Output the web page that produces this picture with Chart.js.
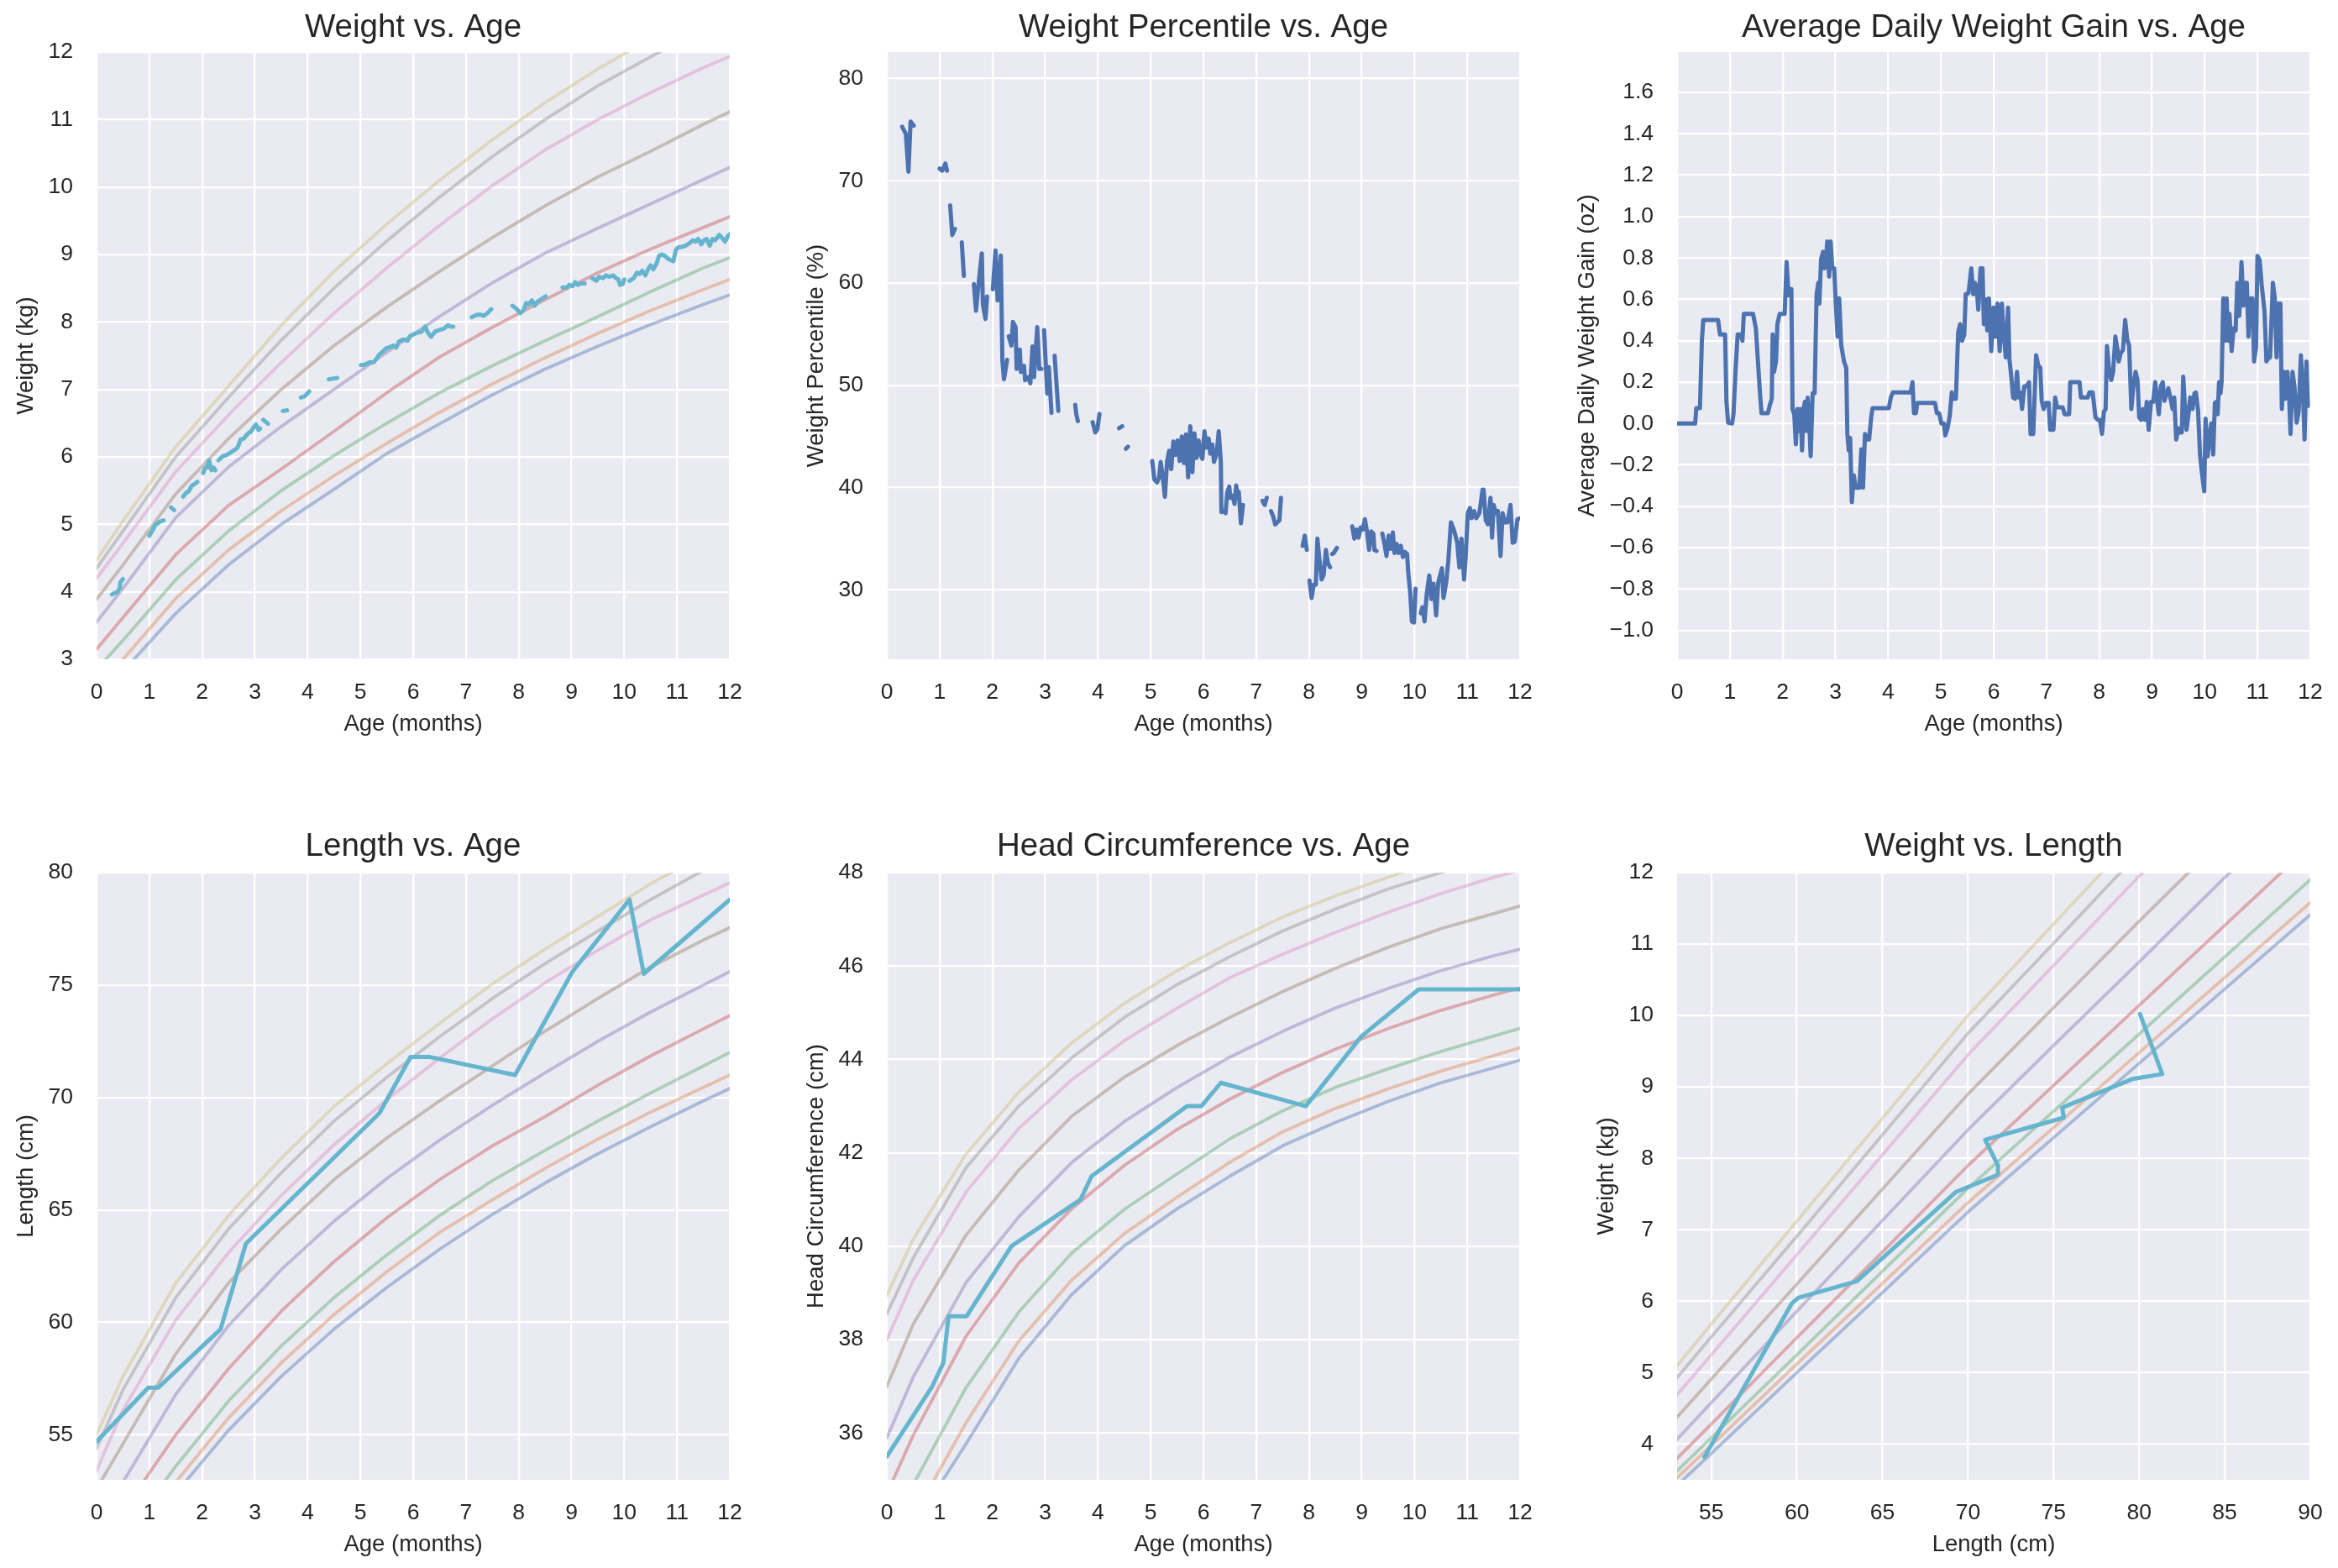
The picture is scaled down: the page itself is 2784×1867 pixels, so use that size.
<!DOCTYPE html>
<html><head><meta charset="utf-8">
<script src="https://cdn.jsdelivr.net/npm/chart.js@4.4.1/dist/chart.umd.min.js"></script>
<style>
html,body{margin:0;padding:0;background:#ffffff;width:2784px;height:1867px;overflow:hidden;position:relative;}
canvas{position:absolute;}
</style></head><body>
<canvas id="c1"></canvas><canvas id="c2"></canvas><canvas id="c3"></canvas>
<canvas id="c4"></canvas><canvas id="c5"></canvas><canvas id="c6"></canvas>
<script>
// ---------------- DATA ----------------
const CURVE_AGES = [0,0.5,1.5,2.5,3.5,4.5,5.5,6.5,7.5,8.5,9.5,10.5,11.5,12.5];
const PCT_NAMES = ['P3','P5','P10','P25','P50','P75','P90','P95','P97'];

// weight-for-age reference curves (kg)
const W_P3  = [2.42,2.82,3.68,4.40,5.00,5.52,6.05,6.49,6.92,7.30,7.64,7.96,8.26,8.54];
const W_P5  = [2.60,3.00,3.90,4.62,5.20,5.72,6.20,6.66,7.08,7.47,7.83,8.17,8.48,8.78];
const W_P10 = [2.85,3.28,4.18,4.90,5.50,6.02,6.50,6.95,7.35,7.72,8.08,8.45,8.80,9.10];
const W_P25 = [3.15,3.62,4.55,5.28,5.82,6.38,6.95,7.48,7.92,8.33,8.73,9.08,9.40,9.72];
const W_P50 = [3.55,4.05,5.10,5.85,6.45,7.00,7.55,8.08,8.58,9.02,9.39,9.75,10.11,10.47];
const W_P75 = [3.89,4.40,5.45,6.27,7.00,7.65,8.22,8.75,9.25,9.72,10.15,10.53,10.93,11.30];
const W_P90 = [4.20,4.72,5.78,6.62,7.40,8.13,8.80,9.43,10.02,10.55,11.00,11.40,11.77,12.10];
const W_P95 = [4.35,4.90,6.00,6.88,7.73,8.50,9.20,9.85,10.45,11.00,11.50,11.93,12.35,12.75];
const W_P97 = [4.47,5.05,6.15,7.05,7.95,8.75,9.45,10.10,10.70,11.25,11.75,12.20,12.60,13.00];

// length-for-age reference curves (cm)
const L_P3  = [47.1,49.2,52.4,55.2,57.6,59.7,61.55,63.25,64.8,66.2,67.5,68.7,69.85,70.95];
const L_P5  = [47.6,49.7,52.9,55.75,58.2,60.35,62.25,64.0,65.45,66.85,68.15,69.35,70.45,71.55];
const L_P10 = [48.3,50.4,53.6,56.5,58.95,61.1,63.0,64.75,66.3,67.65,68.95,70.2,71.4,72.6];
const L_P25 = [49.8,51.6,55.0,57.94,60.5,62.7,64.65,66.35,67.85,69.15,70.55,71.85,73.05,74.25];
const L_P50 = [51.3,52.9,56.8,59.85,62.35,64.5,66.4,68.1,69.65,71.1,72.5,73.8,75.0,76.2];
const L_P75 = [52.6,54.6,58.6,61.75,64.15,66.35,68.2,69.85,71.4,72.95,74.4,75.8,77.0,78.1];
const L_P90 = [53.4,56.1,60.1,63.1,65.65,67.9,69.9,71.75,73.5,75.1,76.55,77.9,79.0,80.1];
const L_P95 = [54.4,57.0,61.1,64.15,66.65,68.95,70.9,72.7,74.4,75.95,77.4,78.8,80.1,81.3];
const L_P97 = [55.0,57.6,61.75,64.75,67.3,69.6,71.5,73.3,75.05,76.6,78.05,79.5,80.8,82.0];

// head circumference-for-age reference curves (cm)
const H_P3  = [33.0,34.0,35.77,37.6,38.96,40.01,40.8,41.5,42.15,42.65,43.1,43.5,43.82,44.15];
const H_P5  = [33.3,34.2,36.22,37.97,39.27,40.27,41.05,41.8,42.45,42.95,43.37,43.75,44.08,44.42];
const H_P10 = [33.9,34.9,36.97,38.59,39.85,40.79,41.55,42.3,42.9,43.4,43.8,44.17,44.5,44.83];
const H_P25 = [34.7,35.95,38.07,39.64,40.8,41.73,42.5,43.15,43.72,44.22,44.66,45.05,45.38,45.68];
const H_P50 = [35.9,37.2,39.22,40.63,41.79,42.67,43.4,44.05,44.6,45.1,45.52,45.9,46.22,46.5];
const H_P75 = [37.0,38.33,40.24,41.63,42.78,43.62,44.3,44.9,45.45,45.95,46.4,46.8,47.12,47.45];
const H_P90 = [38.0,39.27,41.16,42.52,43.56,44.4,45.1,45.75,46.25,46.72,47.15,47.55,47.9,48.2];
const H_P95 = [38.55,39.75,41.68,43.0,44.03,44.9,45.6,46.2,46.75,47.22,47.65,48.0,48.35,48.65];
const H_P97 = [38.95,40.15,41.97,43.3,44.35,45.2,45.9,46.5,47.05,47.5,47.9,48.3,48.65,49.0];

// weight-for-length reference curves (kg) at lengths (cm)
const LEN_NODES = [50,55,60,65,70,75,80,85,90,95];
const F_P3  = [2.75,3.87,5.0,6.12,7.25,8.29,9.33,10.37,11.41,12.45];
const F_P5  = [2.85,3.98,5.12,6.25,7.38,8.43,9.48,10.53,11.58,12.6];
const F_P10 = [2.93,4.09,5.25,6.42,7.58,8.66,9.74,10.82,11.9,12.95];
const F_P25 = [3.08,4.28,5.49,6.69,7.9,9.02,10.14,11.26,12.38,13.5];
const F_P50 = [3.3,4.58,5.86,7.13,8.4,9.58,10.75,11.93,13.08,14.2];
const F_P75 = [3.58,4.91,6.24,7.57,8.9,10.11,11.32,12.5,13.65,14.8];
const F_P90 = [3.85,5.25,6.65,8.05,9.45,10.7,11.95,13.15,14.35,15.5];
const F_P95 = [4.08,5.5,6.91,8.33,9.75,11.01,12.28,13.5,14.7,15.9];
const F_P97 = [4.23,5.68,7.12,8.56,10.0,11.28,12.56,13.8,15.0,16.2];

// measured weight (kg) by age (months); null = no reading
const WEIGHT_AGE = [0.29,0.34,0.40,0.44,0.45,0.50,null,
 1.00,1.06,1.11,1.18,1.23,1.27,null,
 1.41,1.47,null,
 1.64,1.70,1.75,1.80,1.86,1.91,null,
 2.02,2.06,2.10,2.13,2.18,2.22,2.25,null,
 2.31,2.39,2.47,2.55,2.63,2.68,2.73,2.79,2.84,2.89,2.92,2.98,3.02,3.07,3.10,null,
 3.16,3.25,null,
 3.53,3.61,null,
 3.87,3.95,4.03,null,
 4.40,4.56,null,
 5.01,5.09,5.17,5.25,5.31,5.36,5.41,5.49,5.57,5.62,5.68,5.73,5.78,5.84,5.89,5.94,6.07,6.15,6.23,6.28,6.34,6.42,6.50,6.58,6.66,6.71,6.76,null,
 7.11,7.19,7.27,7.34,7.42,7.48,null,
 7.88,7.95,8.03,8.09,8.14,8.19,8.25,8.30,8.35,8.43,8.51,null,
 8.83,8.91,8.96,9.02,9.07,9.12,9.18,9.25,null,
 9.39,9.47,9.52,9.60,9.65,9.71,9.79,9.84,9.89,9.92,9.97,10.00,null,
 10.10,10.18,10.24,10.29,10.34,10.40,10.45,10.50,10.55,10.61,10.66,10.71,10.77,10.82,10.87,10.93,10.98,11.03,11.08,11.16,11.24,11.30,11.35,11.40,11.46,11.51,11.56,11.62,11.67,11.72,11.80,11.85,11.91,11.96,12.0];
const WEIGHT_KG = [3.96,3.98,4.00,4.06,4.14,4.19,null,
 4.83,4.91,4.99,5.03,5.05,5.06,null,
 5.25,5.21,null,
 5.41,5.47,5.49,5.57,5.60,5.63,null,
 5.76,5.84,5.84,5.95,5.80,5.84,5.80,null,
 5.95,6.01,6.03,6.07,6.11,6.15,6.26,6.27,6.32,6.36,6.37,6.44,6.48,6.40,6.42,null,
 6.55,6.49,null,
 6.68,6.69,null,
 6.88,6.90,6.97,null,
 7.15,7.17,null,
 7.36,7.37,7.40,7.40,7.46,7.52,7.55,7.61,7.63,7.65,7.62,7.71,7.73,7.74,7.72,7.79,7.84,7.85,7.93,7.84,7.78,7.86,7.88,7.90,7.95,7.93,7.93,null,
 8.07,8.10,8.11,8.09,8.14,8.19,null,
 8.24,8.20,8.13,8.17,8.28,8.26,8.32,8.24,8.30,8.34,8.38,null,
 8.51,8.51,8.55,8.53,8.59,8.55,8.57,8.57,null,
 8.65,8.61,8.67,8.65,8.69,8.67,8.69,8.65,8.63,8.55,8.56,8.63,null,
 8.61,8.65,8.73,8.71,8.76,8.69,8.78,8.84,8.78,8.86,8.98,9.00,8.98,8.94,8.92,8.90,9.07,9.11,9.11,9.13,9.17,9.21,9.19,9.23,9.15,9.21,9.23,9.13,9.23,9.21,9.29,9.25,9.19,9.27,9.30];

// weight percentile (%) by age (months)
const PCT_AGE = [0.29,0.36,0.41,0.45,0.51,null,
 1.00,1.05,1.11,1.14,null,
 1.20,1.24,1.29,null,
 1.42,1.46,null,
 1.65,1.69,1.73,1.80,1.82,1.87,1.90,null,
 2.01,2.06,2.10,2.13,2.16,2.19,2.22,2.28,null,
 2.31,2.36,2.39,2.44,2.46,2.52,2.54,2.60,2.62,2.68,2.72,2.76,2.79,2.85,2.89,2.93,null,
 2.98,3.04,3.07,3.12,null,
 3.18,3.25,null,
 3.57,3.59,3.62,null,
 3.90,3.95,3.99,4.03,null,
 4.40,4.46,null,
 4.53,4.57,null,
 5.03,5.07,5.12,5.16,5.19,5.23,5.27,5.31,5.35,5.39,5.43,5.47,5.51,5.55,5.59,5.63,5.67,5.71,5.75,5.79,5.83,5.87,5.91,5.95,
 5.98,6.02,6.06,6.10,6.13,6.17,6.20,6.25,6.29,6.33,6.34,6.38,6.42,6.45,6.49,6.51,6.55,6.59,6.62,6.65,6.67,6.71,6.75,null,
 7.12,7.16,7.20,null,
 7.28,7.32,7.36,7.40,7.44,7.47,null,
 7.88,7.92,7.96,null,
 8.01,8.05,8.09,8.13,8.16,8.20,8.24,8.28,8.32,8.36,8.40,null,
 8.44,8.47,8.53,null,
 8.82,8.86,8.90,8.94,8.98,9.02,9.06,9.10,9.14,9.18,9.22,9.24,9.28,null,
 9.39,9.43,9.47,9.51,9.55,9.59,9.62,9.66,9.70,9.74,9.78,9.82,9.86,9.88,9.92,9.95,9.99,10.02,null,
 10.12,10.15,10.19,10.23,10.28,10.32,10.36,10.41,10.45,10.52,10.55,10.60,10.64,10.69,10.75,10.81,10.85,10.89,10.94,10.97,
 11.01,11.05,11.08,11.13,11.17,11.23,11.29,11.31,11.35,11.39,11.44,11.47,11.50,11.54,11.58,11.63,11.67,11.71,11.76,11.82,11.86,11.90,11.95,12.0];
const PCT_VAL = [75.3,74.6,70.9,75.8,75.4,null,
 71.2,71.0,71.7,71.0,null,
 67.6,64.7,65.3,null,
 64.0,60.7,null,
 59.9,57.3,59.5,62.9,57.9,56.5,58.7,null,
 59.4,63.2,58.3,60.3,62.7,52.4,50.6,52.5,null,
 54.8,53.9,56.2,55.7,51.6,53.5,51.3,51.9,50.5,50.8,50.2,53.8,50.8,55.7,51.6,51.6,null,
 55.4,49.2,51.8,47.3,null,
 52.9,47.5,null,
 48.1,47.2,46.5,null,
 46.4,45.4,45.7,47.2,null,
 45.8,46.0,null,
 43.8,44.0,null,
 42.6,40.8,40.5,41.0,42.5,41.0,39.1,42.5,43.6,41.8,44.5,43.2,44.6,42.6,45.0,42.4,45.2,41.0,46.0,41.5,45.3,42.9,44.6,43.2,
 42.8,45.5,43.9,44.8,43.3,44.2,42.5,43.3,45.5,42.5,37.6,37.7,37.5,39.5,40.1,39.0,39.2,38.4,40.2,39.0,39.6,36.5,38.3,null,
 38.7,38.3,39.0,null,
 37.7,37.2,36.4,36.6,36.8,39.0,null,
 34.3,35.3,33.9,null,
 30.9,29.2,30.5,30.5,35.0,32.9,31.0,31.5,33.9,32.6,32.2,null,
 33.5,33.6,34.1,null,
 36.2,35.0,35.9,35.1,36.1,35.9,36.9,35.7,33.9,35.7,35.5,33.9,33.8,null,
 35.5,34.5,33.3,35.3,34.0,35.6,33.6,34.5,33.6,34.3,33.2,33.7,33.5,31.8,29.6,26.9,26.8,30.1,null,
 27.7,28.3,26.9,29.5,31.4,29.1,30.6,27.5,30.7,32.1,29.2,30.7,32.8,36.6,35.8,34.6,32.2,35.0,31.0,33.2,
 37.5,38.0,37.0,37.7,37.0,37.5,39.8,39.8,36.8,36.4,39.0,35.1,38.3,37.5,37.7,33.3,37.5,36.6,36.6,38.3,34.6,34.7,36.9,37.0];

// average daily weight gain (oz) by age (months)
const ADG_AGE = [0,0.343,0.364,0.433,0.47,0.496,0.777,0.814,0.91,0.936,0.968,1.042,1.069,1.111,1.148,1.212,1.239,1.265,1.44,1.493,
 1.573,1.6,1.721,1.758,1.795,1.811,1.838,1.875,1.901,1.944,2.039,2.076,2.113,2.145,2.166,2.188,2.22,2.251,2.278,2.315,
 2.341,2.368,2.394,2.421,2.448,2.474,2.5,2.532,2.569,2.607,2.644,2.676,2.697,2.729,2.766,2.792,2.819,2.845,2.882,2.909,
 2.941,2.978,3.004,3.041,3.073,3.11,3.163,3.206,3.227,3.253,3.28,3.312,3.349,3.386,3.455,3.492,3.524,3.561,3.598,3.64,
 3.678,3.704,4.012,4.054,4.091,4.425,4.462,4.489,4.526,4.553,4.887,4.924,4.966,5.008,5.056,5.083,5.125,5.168,5.205,5.231,
 5.284,5.327,5.364,5.401,5.443,5.47,5.523,5.576,5.613,5.645,5.682,5.708,5.751,5.788,5.814,5.857,5.878,5.91,
 5.954,5.996,6.033,6.071,6.113,6.156,6.193,6.23,6.273,6.299,6.336,6.368,6.405,6.442,6.474,6.506,6.538,6.58,6.618,6.671,
 6.698,6.75,6.804,6.846,6.883,6.91,6.947,6.989,7.042,7.069,7.133,7.165,7.202,7.308,7.345,7.43,7.451,7.627,7.653,7.786,
 7.813,7.876,7.929,7.972,8.014,8.052,8.089,8.121,8.147,8.184,8.227,8.264,8.306,8.344,8.37,8.407,8.45,8.492,8.529,8.567,
 8.609,8.646,8.689,8.726,8.758,8.795,8.832,8.864,8.901,8.938,8.981,9.023,9.061,9.098,9.13,9.167,9.204,9.236,9.273,9.31,
 9.353,9.39,9.422,9.459,9.501,9.539,9.565,9.592,9.618,9.655,9.698,9.724,9.767,9.804,9.831,9.873,9.91,9.947,9.99,10.016,
 10.054,10.086,10.123,10.16,10.192,10.218,10.245,10.271,10.298,10.319,10.351,10.388,10.415,10.441,10.468,10.51,10.547,10.585,10.617,10.654,
 10.696,10.733,10.76,10.797,10.829,10.866,10.903,10.935,10.972,10.999,11.041,11.079,11.132,11.169,11.201,11.238,11.291,11.328,11.36,11.397,
 11.434,11.461,11.503,11.53,11.567,11.599,11.626,11.663,11.7,11.742,11.78,11.822,11.859,11.891,11.928,11.955];
const ADG_OZ = [0,0,0.074,0.074,0.40,0.50,0.50,0.43,0.43,0.105,0.004,0.0,0.045,0.27,0.43,0.43,0.40,0.53,0.53,0.46,
 0.14,0.05,0.05,0.09,0.12,0.43,0.25,0.30,0.48,0.53,0.53,0.78,0.62,0.65,0.65,0.07,0.045,-0.10,0.07,-0.036,
 0.07,-0.13,0.06,0.105,-0.036,0.125,0.03,-0.158,0.146,0.146,0.625,0.68,0.58,0.795,0.83,0.75,0.77,0.88,0.71,0.88,
 0.75,0.75,0.60,0.42,0.605,0.38,0.30,0.27,-0.05,-0.13,-0.07,-0.38,-0.25,-0.31,-0.31,-0.124,-0.31,-0.05,-0.077,-0.077,
 0.03,0.074,0.074,0.13,0.15,0.15,0.2,0.05,0.05,0.10,0.10,0.05,0.05,0.0,0.0,-0.057,-0.023,0.038,0.15,0.12,
 0.12,0.44,0.48,0.40,0.43,0.625,0.63,0.75,0.625,0.68,0.64,0.55,0.75,0.75,0.48,0.60,0.45,0.605,
 0.35,0.56,0.42,0.58,0.35,0.58,0.42,0.32,0.56,0.31,0.22,0.126,0.12,0.25,0.126,0.15,0.07,0.18,0.18,0.2,
 -0.05,-0.05,0.33,0.28,0.27,0.11,0.07,0.10,0.10,-0.03,-0.03,0.126,0.078,0.078,0.045,0.045,0.2,0.2,0.126,0.126,
 0.15,0.15,0.03,0.018,0.018,-0.05,0.058,0.07,0.375,0.27,0.21,0.25,0.42,0.36,0.30,0.34,0.355,0.5,0.41,0.375,
 0.07,0.18,0.25,0.21,0.03,0.018,0.07,0.018,0.105,-0.03,0.105,0.105,0.2,0.11,0.045,0.18,0.2,0.11,0.14,0.17,
 0.12,0.07,0.126,-0.077,-0.023,-0.043,-0.043,0.227,0.11,-0.03,0.058,0.126,0.07,0.146,0.15,0.065,-0.15,-0.24,-0.327,0.024,
 -0.158,-0.077,0.0,-0.15,0.1,0.105,0.045,0.2,0.146,0.2,0.605,0.40,0.605,0.40,0.53,0.35,0.46,0.45,0.68,0.52,
 0.78,0.57,0.68,0.68,0.42,0.605,0.605,0.30,0.37,0.81,0.79,0.67,0.545,0.30,0.315,0.32,0.68,0.605,0.32,0.58,
 0.58,0.07,0.25,0.12,0.25,0.126,-0.05,0.25,0.18,0.004,0.058,0.33,0.166,-0.077,0.30,0.085];

// measured length (cm) and head circumference (cm) by age (months)
const LEN_AGE = [0,0.98,1.17,2.35,2.83,5.36,5.95,6.32,7.93,9.02,10.1,10.37,12.0];
const LEN_CM  = [54.7,57.1,57.1,59.7,63.5,69.3,71.8,71.8,71.0,75.6,78.8,75.5,78.8];
const HC_AGE  = [0,0.86,1.07,1.17,1.51,2.36,3.67,3.88,5.69,5.96,6.33,7.94,9.0,10.08,12.0];
const HC_CM   = [35.5,37.0,37.5,38.5,38.5,40.0,41.0,41.5,43.0,43.0,43.5,43.0,44.5,45.5,45.5];

// measured weight vs length
const WL_LEN = [54.6,59.7,60.1,63.5,69.3,71.75,71.75,71.0,75.6,75.5,79.6,81.35,80.05];
const WL_KG  = [3.82,5.97,6.05,6.28,7.53,7.77,7.9,8.26,8.57,8.71,9.11,9.18,10.02];

// tick labels
const AGE_TICKS = [0,1,2,3,4,5,6,7,8,9,10,11,12];
const WEIGHT_TICKS = [3,4,5,6,7,8,9,10,11,12];
const PCT_TICKS = [30,40,50,60,70,80];
const ADG_TICKS = [-1.0,-0.8,-0.6,-0.4,-0.2,0.0,0.2,0.4,0.6,0.8,1.0,1.2,1.4,1.6];
const LEN_TICKS = [55,60,65,70,75,80];
const HC_TICKS = [36,38,40,42,44,46,48];
const WL_X_TICKS = [55,60,65,70,75,80,85,90];
const WL_Y_TICKS = [4,5,6,7,8,9,10,11,12];

// ---------------- STYLE / LAYOUT ----------------
const FONT = "'Liberation Sans', Arial, Helvetica, sans-serif";
const TXT = '#262626';
const CURVE_COLORS = [[76,114,176],[221,132,82],[85,168,104],[196,78,82],[129,114,179],[147,120,96],[218,139,195],[140,140,140],[204,185,116]];
const DATA_CYAN = '#64B5CD';
const DATA_BLUE = '#4C72B0';
const YW = 140, XH = 110, TH = 64, PR = 25;
const COLS = [114.5, 1055.5, 1996.5], ROWS = [62, 1039], PW = 754, PH = 723;

const bgPlugin = { id: 'axbg', beforeDraw(chart) {
  const a = chart.chartArea, ctx = chart.ctx;
  ctx.save(); ctx.fillStyle = '#EAEAF2'; ctx.fillRect(a.left, a.top, a.right - a.left, a.bottom - a.top); ctx.restore();
}};

function pts(xs, ys) {
  const out = []; let lastX = 0;
  const n = Math.min(xs.length, ys.length);
  for (let i = 0; i < n; i++) {
    if (xs[i] === null || ys[i] === null) out.push({x: lastX, y: null});
    else { lastX = xs[i]; out.push({x: xs[i], y: ys[i]}); }
  }
  return out;
}
function curveSets(xs, list) {
  return list.map((ys, i) => ({
    label: PCT_NAMES[i], data: pts(xs, ys),
    borderColor: `rgba(${CURVE_COLORS[i].join(',')},0.42)`, borderWidth: 3.8,
    pointRadius: 0, pointHoverRadius: 0, tension: 0, clip: 0, borderJoinStyle: 'round', borderCapStyle: 'round'
  }));
}
function dataSet(label, xs, ys, color) {
  return { label, data: pts(xs, ys), borderColor: color, borderWidth: 5, pointRadius: 0, pointHoverRadius: 0,
    tension: 0, clip: 0, spanGaps: false, borderJoinStyle: 'round', borderCapStyle: 'round' };
}
const fmtInt = v => String(v);
const fmt1 = v => { const r = Math.round(v * 10) / 10; return (r < 0 ? '\u2212' : '') + Math.abs(r).toFixed(1); };

function axis(isX, min, max, ticks, title, fmt, titlePad) {
  return {
    type: 'linear', position: isX ? 'bottom' : 'left', min, max,
    afterBuildTicks: s => { s.ticks = ticks.map(v => ({value: v})); },
    afterFit: s => { if (isX) s.height = XH; else s.width = YW;
      s.paddingLeft = 0; s.paddingRight = 0; s.paddingTop = 0; s.paddingBottom = 0; },
    grid: { color: '#ffffff', lineWidth: 2.3, drawTicks: false },
    border: { display: false },
    ticks: { color: TXT, font: { family: FONT, size: 26.5 }, padding: isX ? 24 : 28,
      autoSkip: false, maxRotation: 0, minRotation: 0, callback: fmt },
    title: { display: true, text: title, color: TXT, font: { family: FONT, size: 27.5 },
      padding: isX ? { top: 0, bottom: 16.5 } : { top: titlePad, bottom: 0 } }
  };
}

function makeChart(id, col, row, title, datasets, xAx, yAx) {
  const c = document.getElementById(id);
  const cw = YW + PW + PR, ch = TH + PH + XH;
  c.style.left = (COLS[col] - YW) + 'px'; c.style.top = (ROWS[row] - TH) + 'px';
  c.style.width = cw + 'px'; c.style.height = ch + 'px';
  c.width = cw; c.height = ch;
  const tp = row === 0 ? 12.5 : 10;
  new Chart(c, {
    type: 'line',
    data: { datasets },
    options: {
      responsive: false, animation: false, events: [],
      layout: { padding: { left: 0, right: PR, top: 0, bottom: 0 } },
      plugins: {
        legend: { display: false }, tooltip: { enabled: false },
        title: { display: true, text: title, fullSize: false, color: TXT,
          font: { family: FONT, size: 38.5, weight: 'normal', lineHeight: 1.2 },
          padding: { top: tp, bottom: TH - 46.2 - tp } }
      },
      scales: { x: xAx, y: yAx }
    },
    plugins: [bgPlugin]
  });
}

// 1 Weight vs Age
makeChart('c1', 0, 0, 'Weight vs. Age',
  [dataSet('Weight', WEIGHT_AGE, WEIGHT_KG, DATA_CYAN)].concat(
    curveSets(CURVE_AGES, [W_P3,W_P5,W_P10,W_P25,W_P50,W_P75,W_P90,W_P95,W_P97])),
  axis(true, 0, 12, AGE_TICKS, 'Age (months)', fmtInt),
  axis(false, 3, 12, WEIGHT_TICKS, 'Weight (kg)', fmtInt, 39.5));

// 2 Weight Percentile vs Age
makeChart('c2', 1, 0, 'Weight Percentile vs. Age',
  [dataSet('Percentile', PCT_AGE, PCT_VAL, DATA_BLUE)],
  axis(true, 0, 12, AGE_TICKS, 'Age (months)', fmtInt),
  axis(false, 23.2, 82.6, PCT_TICKS, 'Weight Percentile (%)', fmtInt, 39.5));

// 3 Average Daily Weight Gain vs Age
makeChart('c3', 2, 0, 'Average Daily Weight Gain vs. Age',
  [dataSet('ADG', ADG_AGE, ADG_OZ, DATA_BLUE)],
  axis(true, 0, 12, AGE_TICKS, 'Age (months)', fmtInt),
  axis(false, -1.139, 1.795, ADG_TICKS, 'Average Daily Weight Gain (oz)', fmt1, 16.5));

// 4 Length vs Age
makeChart('c4', 0, 1, 'Length vs. Age',
  [dataSet('Length', LEN_AGE, LEN_CM, DATA_CYAN)].concat(
    curveSets(CURVE_AGES, [L_P3,L_P5,L_P10,L_P25,L_P50,L_P75,L_P90,L_P95,L_P97])),
  axis(true, 0, 12, AGE_TICKS, 'Age (months)', fmtInt),
  axis(false, 53, 80, LEN_TICKS, 'Length (cm)', fmtInt, 39.5));

// 5 Head Circumference vs Age
makeChart('c5', 1, 1, 'Head Circumference vs. Age',
  [dataSet('Head', HC_AGE, HC_CM, DATA_CYAN)].concat(
    curveSets(CURVE_AGES, [H_P3,H_P5,H_P10,H_P25,H_P50,H_P75,H_P90,H_P95,H_P97])),
  axis(true, 0, 12, AGE_TICKS, 'Age (months)', fmtInt),
  axis(false, 35, 48, HC_TICKS, 'Head Circumference (cm)', fmtInt, 39.5));

// 6 Weight vs Length
makeChart('c6', 2, 1, 'Weight vs. Length',
  [dataSet('WL', WL_LEN, WL_KG, DATA_CYAN)].concat(
    curveSets(LEN_NODES, [F_P3,F_P5,F_P10,F_P25,F_P50,F_P75,F_P90,F_P95,F_P97])),
  axis(true, 53, 90, WL_X_TICKS, 'Length (cm)', fmtInt),
  axis(false, 3.5, 12, WL_Y_TICKS, 'Weight (kg)', fmtInt, 39.5));
</script>
</body></html>
